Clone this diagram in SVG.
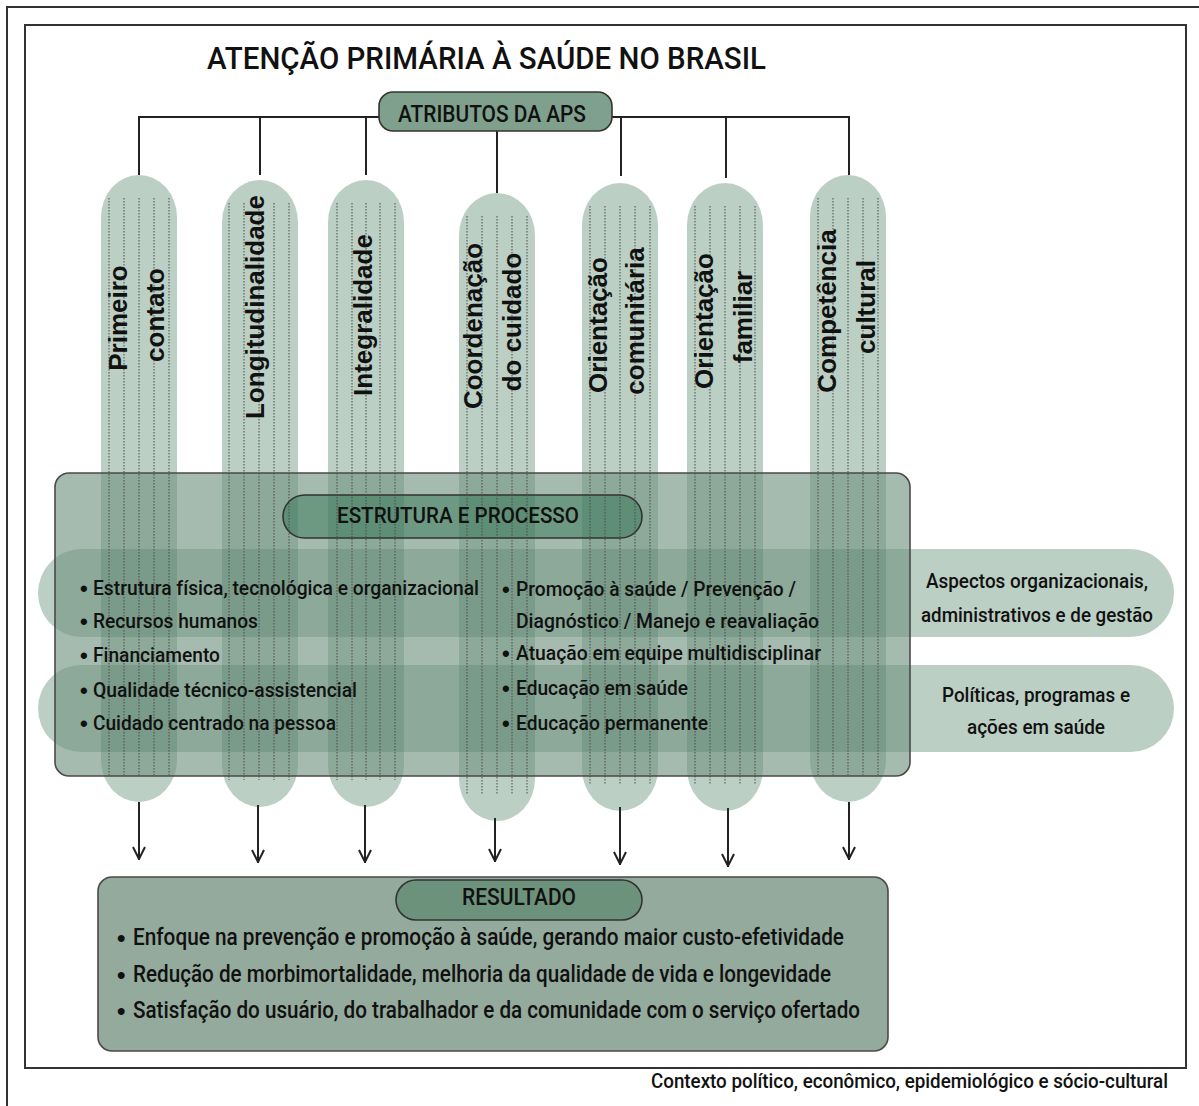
<svg xmlns="http://www.w3.org/2000/svg" width="1199" height="1106" viewBox="0 0 1199 1106">
<defs>
<style>
.frame{fill:none;stroke:#333;stroke-width:2}
.pillar{fill:#074d25;fill-opacity:.27}
.band{fill:#074d25;fill-opacity:.27}
.box{fill:#6f917f;fill-opacity:.62;stroke:#4a4a4a;stroke-width:1.6}
.pill{fill:#1a6640;fill-opacity:.4;stroke:#333;stroke-width:1.6}
.dots{fill:none;stroke:#4a4a4a;stroke-width:1;stroke-dasharray:1.5 1.5}
.conn{fill:none;stroke:#222;stroke-width:2}
.t{font-family:Roboto,"Liberation Sans",sans-serif;font-weight:500;fill:#111}
.b{font-family:"Liberation Sans",Arial,sans-serif;font-weight:bold;fill:#111}
.v{font-family:"Liberation Sans",Arial,sans-serif;font-weight:bold;font-size:26px;fill:#111;text-anchor:middle}
.c{text-anchor:middle}
</style>
<marker id="arr" viewBox="0 0 14 14" refX="14" refY="7" markerWidth="14" markerHeight="14" markerUnits="userSpaceOnUse" orient="auto">
<path d="M1,1 L13,7 L1,13" fill="none" stroke="#222" stroke-width="2"/>
</marker>
</defs>
<rect x="0" y="0" width="1199" height="1106" fill="#fff"/>
<path class="frame" d="M1199,7 H7 V1106"/>
<rect class="frame" x="25" y="25" width="1161" height="1043"/>

<text id="title" class="t" x="207" y="69" font-size="31" textLength="559" lengthAdjust="spacingAndGlyphs">ATENÇÃO PRIMÁRIA À SAÚDE NO BRASIL</text>

<g id="connectors">
<path class="conn" d="M379,117 H139 V175 M260,117 V175 M366,117 V175 M612,117 H849 V175 M621,117 V176 M726,117 V178 M497,131 V193"/>
<path class="conn" marker-end="url(#arr)" d="M139,802 V860"/>
<path class="conn" marker-end="url(#arr)" d="M258,805 V863"/>
<path class="conn" marker-end="url(#arr)" d="M365,805 V863"/>
<path class="conn" marker-end="url(#arr)" d="M495,818 V862"/>
<path class="conn" marker-end="url(#arr)" d="M620,807 V865"/>
<path class="conn" marker-end="url(#arr)" d="M728,808 V867"/>
<path class="conn" marker-end="url(#arr)" d="M849,802 V860"/>
</g>

<g id="atributos">
<rect x="379" y="92" width="233" height="39" rx="14" fill="#7ea08c" stroke="#333" stroke-width="1.6"/>
<text class="t" x="398" y="122" font-size="23" textLength="188" lengthAdjust="spacingAndGlyphs">ATRIBUTOS DA APS</text>
</g>

<g id="pillars">
<rect id="p1" class="pillar" x="101" y="175" width="76" height="627" rx="38" ry="42"/>
<rect id="p2" class="pillar" x="222" y="180" width="76" height="627" rx="38" ry="42"/>
<rect id="p3" class="pillar" x="328" y="180" width="76" height="627" rx="38" ry="42"/>
<rect id="p4" class="pillar" x="459" y="193" width="76" height="628" rx="38" ry="42"/>
<rect id="p5" class="pillar" x="582" y="183" width="76" height="628" rx="38" ry="42"/>
<rect id="p6" class="pillar" x="687" y="183" width="76" height="628" rx="38" ry="42"/>
<rect id="p7" class="pillar" x="810" y="175" width="76" height="627" rx="38" ry="42"/>
</g>

<g id="bands">
<rect id="band1" class="band" x="38" y="549" width="1136" height="88" rx="44"/>
<rect id="band2" class="band" x="38" y="665" width="1136" height="87" rx="43.5"/>
</g>

<g id="estrutura">
<rect class="box" x="55" y="473" width="855" height="303" rx="14"/>
<rect class="pill" x="283" y="495" width="359" height="43" rx="21.5"/>
</g>

<g id="dotlines">
<path class="dots" d="M109,198V775M124,198V775M139,198V775M154,198V775M169,198V775"/>
<path class="dots" d="M229,203V780M244,203V780M259,203V780M274,203V780M289,203V780"/>
<path class="dots" d="M337,203V780M352,203V780M366,203V780M380,203V780M395,203V780"/>
<path class="dots" d="M467,216V794M482,216V794M497,216V794M512,216V794M527,216V794"/>
<path class="dots" d="M590,206V784M605,206V784M620,206V784M635,206V784M650,206V784"/>
<path class="dots" d="M695,206V784M710,206V784M725,206V784M740,206V784M755,206V784"/>
<path class="dots" d="M818,198V775M833,198V775M848,198V775M863,198V775M878,198V775"/>
</g>

<g id="pillar-labels">
<text class="v" transform="translate(127,318) rotate(-90)">Primeiro</text>
<text class="v" transform="translate(164,315) rotate(-90)">contato</text>
<text class="v" transform="translate(264,307) rotate(-90)">Longitudinalidade</text>
<text class="v" transform="translate(372,315) rotate(-90)">Integralidade</text>
<text class="v" transform="translate(482,326) rotate(-90)">Coordenação</text>
<text class="v" transform="translate(521,322) rotate(-90)">do cuidado</text>
<text class="v" transform="translate(607,325) rotate(-90)">Orientação</text>
<text class="v" transform="translate(644,321) rotate(-90)">comunitária</text>
<text class="v" transform="translate(713,321) rotate(-90)">Orientação</text>
<text class="v" transform="translate(752,317) rotate(-90)">familiar</text>
<text class="v" transform="translate(836,311) rotate(-90)">Competência</text>
<text class="v" transform="translate(875,307) rotate(-90)">cultural</text>
</g>

<g id="estrutura-text">
<text class="t" x="337" y="523" font-size="22" textLength="242" lengthAdjust="spacingAndGlyphs">ESTRUTURA E PROCESSO</text>
<g class="b" font-size="22">
<text x="80" y="596">•</text>
<text x="80" y="629">•</text>
<text x="80" y="663">•</text>
<text x="80" y="698">•</text>
<text x="80" y="731">•</text>
<text x="502" y="597">•</text>
<text x="502" y="661">•</text>
<text x="502" y="696">•</text>
<text x="502" y="731">•</text>
</g>
<text class="t" x="93" y="595" font-size="20" textLength="386" lengthAdjust="spacingAndGlyphs">Estrutura física, tecnológica e organizacional</text>
<text class="t" x="93" y="628" font-size="20" textLength="165" lengthAdjust="spacingAndGlyphs">Recursos humanos</text>
<text class="t" x="93" y="662" font-size="20" textLength="127" lengthAdjust="spacingAndGlyphs">Financiamento</text>
<text class="t" x="93" y="697" font-size="20" textLength="264" lengthAdjust="spacingAndGlyphs">Qualidade técnico-assistencial</text>
<text class="t" x="93" y="730" font-size="20" textLength="243" lengthAdjust="spacingAndGlyphs">Cuidado centrado na pessoa</text>
<text class="t" x="516" y="596" font-size="20" textLength="280" lengthAdjust="spacingAndGlyphs">Promoção à saúde / Prevenção /</text>
<text class="t" x="516" y="628" font-size="20" textLength="303" lengthAdjust="spacingAndGlyphs">Diagnóstico / Manejo e reavaliação</text>
<text class="t" x="516" y="660" font-size="20" textLength="305" lengthAdjust="spacingAndGlyphs">Atuação em equipe multidisciplinar</text>
<text class="t" x="516" y="695" font-size="20" textLength="172" lengthAdjust="spacingAndGlyphs">Educação em saúde</text>
<text class="t" x="516" y="730" font-size="20" textLength="192" lengthAdjust="spacingAndGlyphs">Educação permanente</text>
</g>

<g id="side1">
<text class="t c" x="1037" y="588" font-size="21" textLength="222" lengthAdjust="spacingAndGlyphs">Aspectos organizacionais,</text>
<text class="t c" x="1037" y="622" font-size="21" textLength="232" lengthAdjust="spacingAndGlyphs">administrativos e de gestão</text>
</g>
<g id="side2">
<text class="t c" x="1036" y="702" font-size="21" textLength="188" lengthAdjust="spacingAndGlyphs">Políticas, programas e</text>
<text class="t c" x="1036" y="734" font-size="21" textLength="138" lengthAdjust="spacingAndGlyphs">ações em saúde</text>
</g>

<g id="resultado">
<rect x="98" y="877" width="790" height="174" rx="14" fill="#94aa9d" stroke="#4a4a4a" stroke-width="1.6"/>
<rect x="396" y="880" width="246" height="40" rx="20" fill="#6c927b" stroke="#333" stroke-width="1.6"/>
<text class="t" x="462" y="905" font-size="23" textLength="114" lengthAdjust="spacingAndGlyphs">RESULTADO</text>
<g class="b" font-size="24">
<text x="117" y="946">•</text>
<text x="117" y="983">•</text>
<text x="117" y="1019">•</text>
</g>
<text class="t" x="133" y="945" font-size="23" textLength="711" lengthAdjust="spacingAndGlyphs">Enfoque na prevenção e promoção à saúde, gerando maior custo-efetividade</text>
<text class="t" x="133" y="982" font-size="23" textLength="698" lengthAdjust="spacingAndGlyphs">Redução de morbimortalidade, melhoria da qualidade de vida e longevidade</text>
<text class="t" x="133" y="1018" font-size="23" textLength="727" lengthAdjust="spacingAndGlyphs">Satisfação do usuário, do trabalhador e da comunidade com o serviço ofertado</text>
</g>

<text id="footer" class="t" x="651" y="1088" font-size="19.5" textLength="517" lengthAdjust="spacingAndGlyphs">Contexto político, econômico, epidemiológico e sócio-cultural</text>
</svg>
